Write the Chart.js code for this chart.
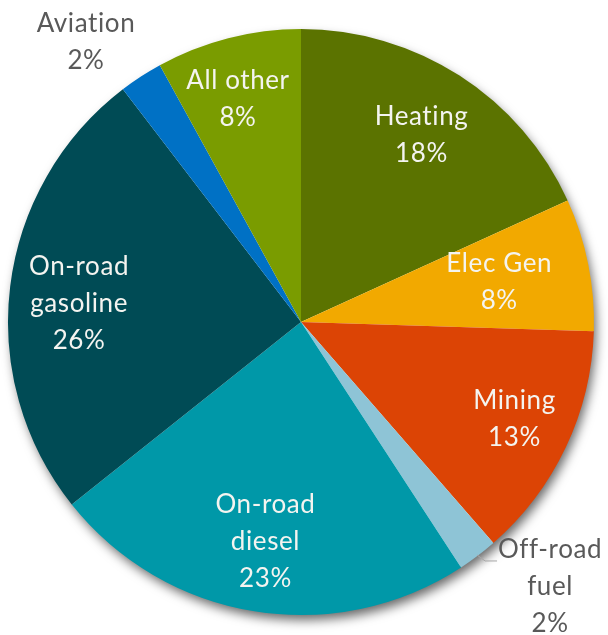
<!DOCTYPE html>
<html>
<head>
<meta charset="utf-8">
<script src="https://cdn.jsdelivr.net/npm/chart.js@4"></script>
<style>
  html, body { margin: 0; padding: 0; background: #ffffff; }
  #wrap { width: 608px; height: 635px; }
</style>
</head>
<body>
<div id="wrap"><canvas id="c" width="608" height="635"></canvas></div>
<script>
// ---- data ----
const categories = ["Heating", "Elec Gen", "Mining", "Off-road fuel", "On-road diesel", "On-road gasoline", "Aviation", "All other"];
const shares = [18.2, 7.3, 13.1, 2.2, 23.5, 25.3, 2.4, 8.0];
const percentLabels = ["18%", "8%", "13%", "2%", "23%", "26%", "2%", "8%"];
const labelLines = [
  ["Heating", "18%"],
  ["Elec Gen", "8%"],
  ["Mining", "13%"],
  ["Off-road", "fuel", "2%"],
  ["On-road", "diesel", "23%"],
  ["On-road", "gasoline", "26%"],
  ["Aviation", "2%"],
  ["All other", "8%"]
];
const colors = ["#5b7300", "#f2a900", "#dc4405", "#8ec4d6", "#0098a8", "#004b55", "#0071c5", "#7a9c00"];
const insideLabel = [true, true, true, false, true, true, false, true];
// label placement (radius factor, angle shift in degrees)
const labelRadius = [0.76, 0.69, 0.80, 1.24, 0.76, 0.76, 1.205, 0.79];
const labelShift = [0, 0, -1, -6.2, 0, -2.3, -4.4, -1.4];

const shadowPlugin = {
  id: 'pieShadow',
  beforeDatasetsDraw(chart) {
    const arc = chart.getDatasetMeta(0).data[0];
    if (!arc) return;
    const ctx = chart.ctx;
    ctx.save();
    ctx.shadowColor = 'rgba(0,0,0,0.6)';
    ctx.shadowBlur = 11;
    ctx.shadowOffsetX = 3;
    ctx.shadowOffsetY = 6;
    ctx.fillStyle = '#ffffff';
    ctx.beginPath();
    ctx.arc(arc.x, arc.y, arc.outerRadius - 1, 0, Math.PI * 2);
    ctx.fill();
    ctx.restore();
  }
};

const labelPlugin = {
  id: 'pieLabels',
  afterDatasetsDraw(chart) {
    const ctx = chart.ctx;
    const meta = chart.getDatasetMeta(0);
    ctx.save();
    ctx.font = '26px Lato';
    if ('letterSpacing' in ctx) ctx.letterSpacing = '0.6px';
    ctx.textAlign = 'center';
    ctx.textBaseline = 'middle';
    const lineH = 37;
    meta.data.forEach((arc, i) => {
      const mid = (arc.startAngle + arc.endAngle) / 2 + labelShift[i] * Math.PI / 180;
      const r = arc.outerRadius * labelRadius[i];
      const x = arc.x + Math.cos(mid) * r;
      const y = arc.y + Math.sin(mid) * r;
      const lines = labelLines[i];
      ctx.fillStyle = insideLabel[i] ? '#f4f4f0' : '#595959';
      const top = y - (lines.length - 1) * lineH / 2;
      lines.forEach((t, k) => ctx.fillText(t, x, top + k * lineH));
      if (i === 3) {
        // leader line
        const m = (arc.startAngle + arc.endAngle) / 2;
        const sx = arc.x + Math.cos(m) * (arc.outerRadius - 1);
        const sy = arc.y + Math.sin(m) * (arc.outerRadius - 1);
        ctx.strokeStyle = '#a6a6a6';
        ctx.lineWidth = 1;
        ctx.beginPath();
        ctx.moveTo(sx, sy);
        ctx.lineTo(sx + 8, sy + 6);
        ctx.lineTo(sx + 20, sy + 6);
        ctx.stroke();
      }
    });
    ctx.restore();
  }
};

new Chart(document.getElementById('c'), {
  type: 'pie',
  data: {
    labels: categories,
    datasets: [{
      data: shares,
      backgroundColor: colors,
      borderWidth: 0,
      hoverOffset: 0
    }]
  },
  options: {
    responsive: false,
    animation: false,
    layout: { padding: { left: 8, right: 14, top: 29, bottom: 20 } },
    plugins: {
      legend: { display: false },
      tooltip: { enabled: false }
    }
  },
  plugins: [shadowPlugin, labelPlugin]
});
</script>
</body>
</html>
